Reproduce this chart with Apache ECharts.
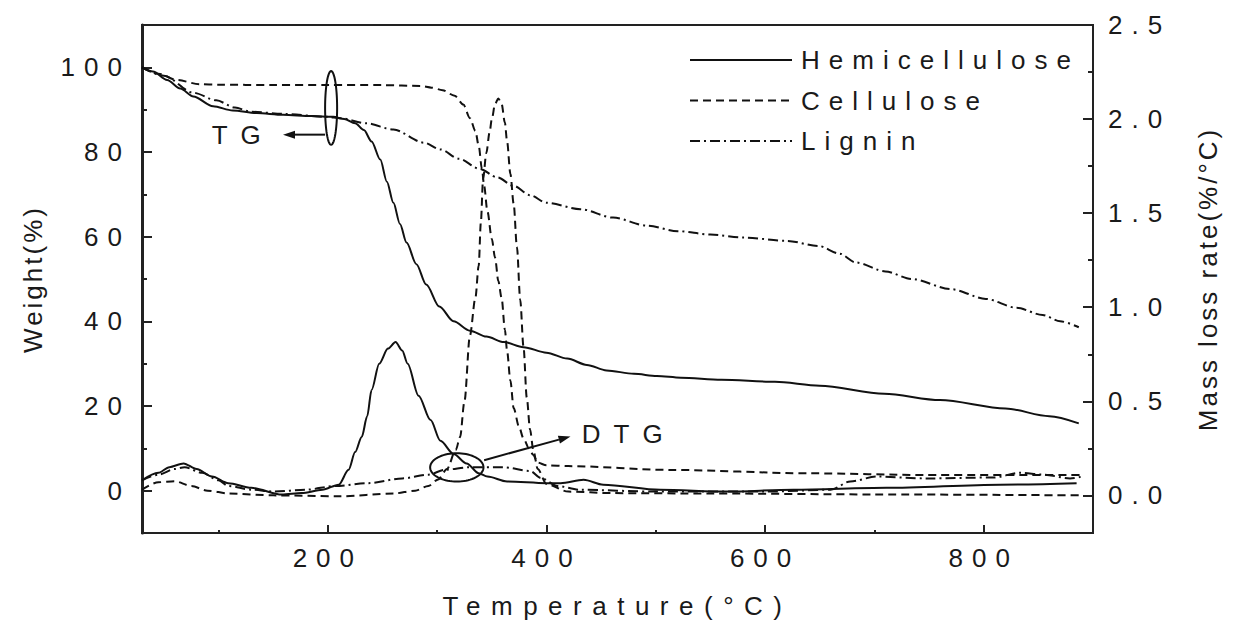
<!DOCTYPE html>
<html><head><meta charset="utf-8">
<script src="https://cdn.jsdelivr.net/npm/echarts@6/dist/echarts.min.js"></script>
<style>
html,body{margin:0;padding:0;background:#fff;}
#chart{width:1236px;height:624px;}
#chart text{letter-spacing:9px;}
</style></head><body><div id="chart"></div>
<script>
// ---- tick values ----
const xMajorTicks = [200, 400, 600, 800];
const xMinorTicks = [100, 300, 500, 700];
const wMajorTicks = [0, 20, 40, 60, 80, 100];
const wMinorTicks = [10, 30, 50, 70, 90];
const rMajorTicks = [0, 0.5, 1, 1.5, 2, 2.5];
const rMinorTicks = [0.25, 0.75, 1.25, 1.75, 2.25];
const seriesNames = ['Hemicellulose', 'Cellulose', 'Lignin'];

// ---- TG curves: [temperature °C, weight %] ----
const hemiTG = [[30,100],[40,99],[53,97],[65,95],[77,93.1],[95,90.8],[113,89.8],[135,89.2],[159,88.8],[185,88.5],[205,88.3],[215,87.8],[225,86.8],[233,85.2],[240,82.5],[248,78.2],[254,73],[260,68],[266,63],[272,58.6],[281,53.5],[290,48.7],[302,43.5],[315,40],[330,37.8],[345,36.4],[361,35.1],[379,33.9],[400,32.6],[419,31.2],[437,29.7],[455,28.4],[480,27.6],[501,27.1],[523,26.7],[560,26.2],[609,25.7],[650,24.8],[709,22.9],[760,21.4],[820,19.4],[860,17.6],[887,15.9]];
const celTG = [[30,100],[45,98.5],[62,97],[83,96],[100,95.9],[150,95.8],[200,95.8],[250,95.8],[285,95.6],[295,95.2],[305,94.6],[316,93.3],[324,91.2],[330,88],[335,85],[338,81.5],[341,76],[343,72],[346,66],[350,59.5],[353,55],[356,49.5],[359,45.5],[362,38],[364,33],[367,26],[370,19.5],[375,15],[379,12.3],[384,10],[388,8.4],[392,6.6],[400,6],[420,5.8],[513,4.9],[641,4.1],[748,3.7],[890,3.7]];
const ligTG = [[30,100],[50,98],[77,94],[98,92.2],[115,90.5],[130,89.5],[160,89],[200,88.3],[211,88],[235,86.8],[260,85.3],[288,82.2],[303,80.6],[320,78.4],[339,76],[355,74],[370,72],[385,69.8],[400,68],[431,66.5],[461,64.5],[492,62.6],[520,61.3],[550,60.5],[580,59.8],[620,59],[649,57.8],[668,56],[683,53.9],[710,51.8],[734,50],[770,47.6],[802,45.3],[830,43.2],[854,41.5],[870,40],[887,38.6]];

// ---- DTG curves: [temperature °C, mass loss rate %/°C] ----
const hemiDTG = [[30,0.08],[45,0.12],[55,0.15],[68,0.17],[80,0.14],[94,0.10],[109,0.065],[130,0.04],[158,0.004],[176,0.012],[195,0.03],[210,0.057],[219,0.136],[225,0.23],[231,0.31],[236,0.42],[240,0.56],[247,0.70],[255,0.78],[262,0.815],[268,0.77],[273,0.70],[283,0.53],[294,0.40],[303,0.29],[315,0.22],[327,0.17],[338,0.118],[346,0.10],[364,0.074],[400,0.065],[413,0.065],[434,0.083],[452,0.057],[504,0.03],[565,0.02],[626,0.03],[711,0.04],[815,0.057],[885,0.065]];
const celDTG = [[30,0.03],[45,0.07],[60,0.075],[75,0.05],[90,0.025],[110,0.01],[150,0.0],[210,-0.005],[260,0.01],[280,0.025],[292,0.05],[301,0.085],[309,0.14],[317,0.24],[321,0.31],[325,0.5],[330,0.85],[335,1.05],[338,1.22],[340,1.45],[342,1.68],[345,1.82],[348,1.93],[350,2.0],[353,2.08],[356,2.11],[359,2.08],[362,1.98],[364,1.88],[367,1.71],[370,1.55],[373,1.32],[376,1.04],[379,0.79],[382,0.52],[385,0.35],[388,0.24],[392,0.14],[400,0.06],[420,0.02],[460,0.012],[550,0.01],[700,0.005],[890,0.0]];
const ligDTG = [[30,0.08],[45,0.11],[60,0.14],[69,0.15],[85,0.12],[100,0.08],[109,0.05],[130,0.03],[151,0.02],[180,0.03],[207,0.05],[237,0.065],[268,0.09],[292,0.11],[307,0.136],[330,0.15],[360,0.15],[385,0.13],[395,0.092],[410,0.05],[430,0.03],[500,0.02],[600,0.02],[660,0.03],[678,0.074],[702,0.10],[748,0.09],[809,0.095],[833,0.12],[855,0.11],[879,0.09],[890,0.1]];

// ---- annotations (data coordinates on temperature / weight axes) ----
const tgEllipse = [203, 90.4, 5.5, 8.7];      // centre T, centre W, half-width (°C), half-height (%)
const tgArrow = [[197.5, 84.1], [159, 84.1]];
const tgLabel = [93.8, 84, 'TG'];
const dtgEllipse = [318, 5.5, 24.4, 3.34];
const dtgArrow = [[343, 7.2], [422, 12.8]];
const dtgLabel = [432.3, 13.5, 'DTG'];

const FONT = "'Liberation Sans', Arial, sans-serif";
const TXT = '#1a1a1a';
const AX = '#222';

function renderAnn(params, api) {
  const children = [];
  function ell(e) {
    const c = api.coord([e[0], e[1]]);
    const s = api.size([e[2], e[3]]);
    const pts = [];
    for (let i = 0; i < 72; i++) {
      const a = i / 72 * Math.PI * 2;
      pts.push([c[0] + s[0] * Math.cos(a), c[1] + s[1] * Math.sin(a)]);
    }
    children.push({type: 'polygon', shape: {points: pts}, style: {fill: 'none', stroke: '#111', lineWidth: 2}});
  }
  function arrow(a) {
    const p0 = api.coord(a[0]), p1 = api.coord(a[1]);
    const ang = Math.atan2(p1[1] - p0[1], p1[0] - p0[0]);
    const L = 12, H = 4;
    const bx = p1[0] - L * Math.cos(ang), by = p1[1] - L * Math.sin(ang);
    children.push({type: 'line', shape: {x1: p0[0], y1: p0[1], x2: bx, y2: by}, style: {stroke: '#111', lineWidth: 2}});
    children.push({type: 'polygon', shape: {points: [[p1[0], p1[1]], [bx - H * Math.sin(ang), by + H * Math.cos(ang)], [bx + H * Math.sin(ang), by - H * Math.cos(ang)]]}, style: {fill: '#111'}});
  }
  function label(t) {
    const c = api.coord([t[0], t[1]]);
    children.push({type: 'text', x: c[0], y: c[1], style: {text: t[2], fontSize: 26, fontFamily: FONT, fill: TXT, align: 'left', verticalAlign: 'middle'}});
  }
  ell(tgEllipse); arrow(tgArrow); label(tgLabel);
  ell(dtgEllipse); arrow(dtgArrow); label(dtgLabel);
  return {type: 'group', children: children};
}

const chart = echarts.init(document.getElementById('chart'), null, {renderer: 'svg'});
const lineBase = {type: 'line', symbol: 'none', showSymbol: false, smooth: 0.3, smoothMonotone: 'x', silent: true};
const styles = [
  {color: '#111', width: 2, type: 'solid'},
  {color: '#111', width: 2, type: [8, 5]},
  {color: '#111', width: 2, type: [10, 4, 2, 4]}
];
function mk(name, data, idx, yAxisIndex) {
  return Object.assign({}, lineBase, {name: name, data: data, yAxisIndex: yAxisIndex, xAxisIndex: 0,
    lineStyle: styles[idx], itemStyle: {color: '#111'}});
}

const option = {
  animation: false,
  backgroundColor: '#fff',
  textStyle: {fontFamily: FONT},
  grid: {left: 142, right: 143, top: 25, bottom: 89, containLabel: false, show: true, borderColor: AX, borderWidth: 2, backgroundColor: 'transparent'},
  legend: {
    data: seriesNames, orient: 'vertical', left: 684, top: 41,
    itemWidth: 102, itemHeight: 20, itemGap: 12.5,
    itemStyle: {opacity: 0},
    textStyle: {fontSize: 26, color: TXT, fontFamily: FONT, lineHeight: 28, padding: [0, 0, 0, 4]},
    selectedMode: false
  },
  xAxis: [
    {type: 'value', position: 'bottom', min: 30, max: 900,
     name: 'Temperature(°C)', nameLocation: 'middle', nameGap: 60,
     nameTextStyle: {fontSize: 26, color: TXT, fontFamily: FONT},
     axisLine: {show: true, onZero: false, lineStyle: {color: AX, width: 2}},
     axisTick: {show: true, inside: true, length: 8, customValues: xMajorTicks, lineStyle: {color: AX, width: 2}},
     axisLabel: {show: true, customValues: xMajorTicks, fontSize: 26, color: TXT, fontFamily: FONT, margin: 12},
     splitLine: {show: false}},
    {type: 'value', position: 'bottom', min: 30, max: 900,
     axisLine: {show: false, onZero: false},
     axisTick: {show: true, inside: true, length: 3, customValues: xMinorTicks, lineStyle: {color: AX, width: 2}},
     axisLabel: {show: false}, splitLine: {show: false}}
  ],
  yAxis: [
    {type: 'value', position: 'left', min: -10, max: 110,
     name: 'Weight(%)', nameLocation: 'middle', nameGap: 96,
     nameTextStyle: {fontSize: 26, color: TXT, fontFamily: FONT},
     axisLine: {show: true, onZero: false, lineStyle: {color: AX, width: 3}},
     axisTick: {show: true, inside: true, length: 10, customValues: wMajorTicks, lineStyle: {color: AX, width: 2}},
     axisLabel: {show: true, customValues: wMajorTicks, fontSize: 26, color: TXT, fontFamily: FONT, margin: 11},
     splitLine: {show: false}},
    {type: 'value', position: 'left', min: -10, max: 110,
     axisLine: {show: false, onZero: false},
     axisTick: {show: true, inside: true, length: 5, customValues: wMinorTicks, lineStyle: {color: AX, width: 2}},
     axisLabel: {show: false}, splitLine: {show: false}},
    {type: 'value', position: 'right', min: -0.2, max: 2.5,
     name: 'Mass loss rate(%/°C)', nameLocation: 'middle', nameGap: 102,
     nameTextStyle: {fontSize: 26, color: TXT, fontFamily: FONT},
     axisLine: {show: true, onZero: false, lineStyle: {color: AX, width: 2}},
     axisTick: {show: true, inside: true, length: 10, customValues: rMajorTicks, lineStyle: {color: AX, width: 2}},
     axisLabel: {show: true, customValues: rMajorTicks, fontSize: 26, color: TXT, fontFamily: FONT, margin: 15,
                 formatter: function (v) { return v.toFixed(1); }},
     splitLine: {show: false}},
    {type: 'value', position: 'right', min: -0.2, max: 2.5,
     axisLine: {show: false, onZero: false},
     axisTick: {show: true, inside: true, length: 5, customValues: rMinorTicks, lineStyle: {color: AX, width: 2}},
     axisLabel: {show: false}, splitLine: {show: false}}
  ],
  series: [
    mk(seriesNames[0], hemiTG, 0, 0),
    mk(seriesNames[1], celTG, 1, 0),
    mk(seriesNames[2], ligTG, 2, 0),
    mk(seriesNames[0], hemiDTG, 0, 2),
    mk(seriesNames[1], celDTG, 1, 2),
    mk(seriesNames[2], ligDTG, 2, 2),
    {type: 'custom', name: 'annotations', xAxisIndex: 0, yAxisIndex: 0, silent: true, z: 10,
     data: [[100, 50]], renderItem: renderAnn}
  ]
};
chart.setOption(option);

function applySpacing() {
  document.querySelectorAll('#chart text').forEach(function (t) {
    const s = t.textContent;
    let ls = 9;
    if (s === 'Weight(%)' || s === 'Mass loss rate(%/°C)') ls = 3;
    else if (s === 'Temperature(°C)') ls = 10.5;
    else if (s === 'TG' || s === 'DTG') ls = 13;
    t.style.letterSpacing = ls + 'px';
  });
}
chart.on('finished', applySpacing);
setTimeout(applySpacing, 50);
</script></body></html>
